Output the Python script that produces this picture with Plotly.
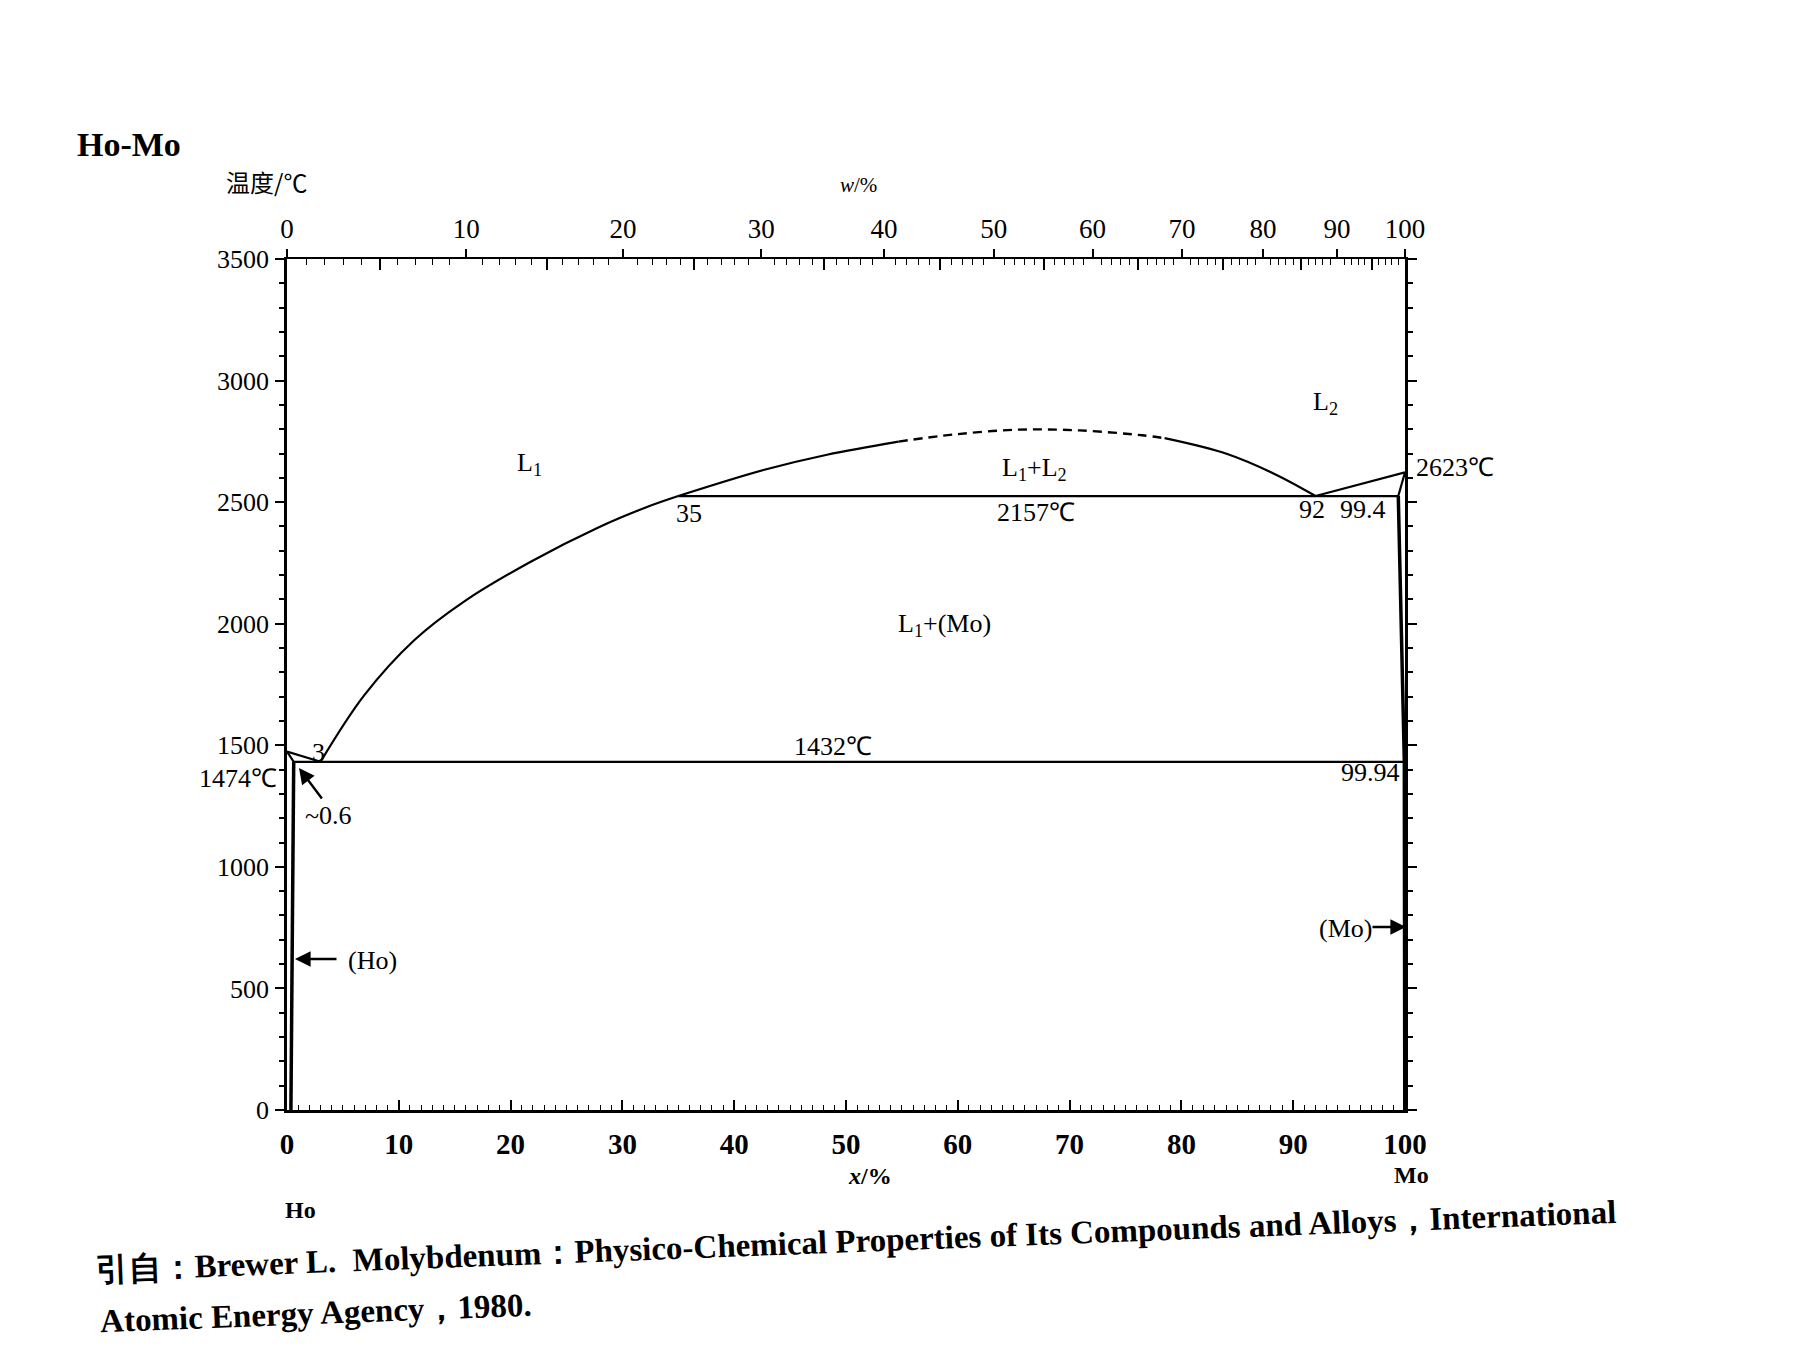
import plotly.graph_objects as go

# ---------------- data (x = at.% Mo, T = deg C) ----------------
M_HO = 164.93
M_MO = 95.95

ho_liq_x = [0, 3]
ho_liq_T = [1474, 1432]
ho_sol_x = [0, 0.6]
ho_sol_T = [1474, 1432]
ho_solvus_x = [0.6, 0.35]
ho_solvus_T = [1432, 0]

l1_liq_x = [3, 6.9, 11.4, 15.8, 21.8, 27.8, 32.2, 35]
l1_liq_T = [1432, 1705, 1933, 2090, 2255, 2395, 2480, 2525]

gap_left_x = [35, 42.7, 48.3, 54.7]
gap_left_T = [2525, 2633, 2695, 2749]
gap_dash_x = [54.7, 59.6, 65.3, 70.9, 76.5, 78.5]
gap_dash_T = [2749, 2778, 2798, 2795, 2775, 2763]
gap_right_x = [78.5, 84.1, 88.6, 92]
gap_right_T = [2763, 2698, 2610, 2525]

l2_liq_x = [92, 100]
l2_liq_T = [2525, 2623]
mo_sol_x = [99.4, 100]
mo_sol_T = [2525, 2623]
mo_solvus_x = [99.4, 99.94, 99.98]
mo_solvus_T = [2525, 1432, 0]

eut_x = [0.6, 99.94]
eut_T = [1432, 1432]
mono_x = [35, 99.4]
mono_T = [2525, 2525]

x_ticks = [0, 10, 20, 30, 40, 50, 60, 70, 80, 90, 100]
T_ticks = [0, 500, 1000, 1500, 2000, 2500, 3000, 3500]
w_ticks = [0, 10, 20, 30, 40, 50, 60, 70, 80, 90, 100]
w_mid = [5, 15, 25, 35, 45, 55, 65, 75, 85, 95]
w_minor = [w for w in range(1, 100) if w % 5]


def w_to_x(w):
    if w <= 0:
        return 0.0
    if w >= 100:
        return 100.0
    a = w / M_MO
    b = (100 - w) / M_HO
    return 100 * a / (a + b)


# ---------------- layout geometry ----------------
W, H = 1795, 1346
L, R, T, B = 287, 1405, 259, 1110
SERIF = "Liberation Serif"


def P(xp, yp):
    return (xp - L) / (R - L), (B - yp) / (B - T)


fig = go.Figure()


def line(x, y, dash="solid", width=2.2, shape="linear"):
    fig.add_trace(go.Scatter(x=x, y=y, mode="lines",
                             line=dict(color="black", width=width, dash=dash, shape=shape,
                                       smoothing=1.0),
                             hoverinfo="skip", showlegend=False, cliponaxis=False))


line(ho_liq_x, ho_liq_T)
line(ho_sol_x, ho_sol_T)
line(ho_solvus_x, ho_solvus_T, width=3.5)
line(l1_liq_x, l1_liq_T, shape="spline")
line(gap_left_x, gap_left_T, shape="spline")
line(gap_dash_x, gap_dash_T, dash="9px,6px", width=2.4, shape="spline")
line(gap_right_x, gap_right_T, shape="spline")
line(l2_liq_x, l2_liq_T)
line(mo_sol_x, mo_sol_T)
line(mo_solvus_x, mo_solvus_T, width=3.5)
line(eut_x, eut_T)
line(mono_x, mono_T)

# invisible traces so that the extra axes are drawn
for xa, ya in [("x2", "y"), ("x3", "y"), ("x", "y2")]:
    fig.add_trace(go.Scatter(x=[50], y=[100], xaxis=xa, yaxis=ya, mode="markers",
                             marker=dict(opacity=0), hoverinfo="skip", showlegend=False))

tick_font = dict(family=SERIF, size=26, color="black")

fig.update_layout(
    width=W, height=H,
    margin=dict(l=L, r=W - R, t=T, b=H - B, pad=0),
    paper_bgcolor="white", plot_bgcolor="white",
    showlegend=False,
    xaxis=dict(range=[0, 100], showgrid=False, zeroline=False, showline=True,
               linecolor="black", linewidth=2.5, ticks="inside", ticklen=10,
               tickwidth=1.8, tickcolor="black", tickvals=x_ticks,
               ticktext=[str(v) for v in x_ticks],
               tickfont=dict(family=SERIF, size=29, color="black", weight="bold"),
               ticklabelstandoff=6,
               minor=dict(dtick=1, ticks="inside", ticklen=5, tickwidth=1.4, tickcolor="black")),
    xaxis2=dict(range=[0, 100], overlaying="x", side="top", anchor="y", showgrid=False,
                zeroline=False, showline=True, linecolor="black", linewidth=2,
                ticks="outside", ticklen=8, tickwidth=1.6, tickcolor="black",
                tickvals=[w_to_x(w) for w in w_ticks], ticktext=[str(w) for w in w_ticks],
                tickfont=dict(family=SERIF, size=27, color="black"), ticklabelstandoff=0,
                minor=dict(tickvals=[w_to_x(w) for w in w_minor], ticks="inside",
                           ticklen=6, tickwidth=1.4, tickcolor="black")),
    xaxis3=dict(range=[0, 100], overlaying="x", side="top", anchor="y", showgrid=False,
                zeroline=False, showline=False, ticks="inside", ticklen=11, tickwidth=1.6,
                tickcolor="black", tickvals=[w_to_x(w) for w in w_mid],
                showticklabels=False),
    yaxis=dict(range=[0, 3500], showgrid=False, zeroline=False, showline=True,
               linecolor="black", linewidth=2.5, ticks="outside", ticklen=9, tickwidth=1.8,
               tickcolor="black", tickvals=T_ticks, ticktext=[str(v) for v in T_ticks],
               tickfont=tick_font, ticklabelstandoff=1,
               minor=dict(dtick=100, ticks="outside", ticklen=5, tickwidth=1.6, tickcolor="black")),
    yaxis2=dict(range=[0, 3500], overlaying="y", side="right", anchor="x", showgrid=False,
                zeroline=False, showline=True, linecolor="black", linewidth=2.5,
                ticks="outside", ticklen=9, tickwidth=1.8, tickcolor="black",
                tickvals=T_ticks, showticklabels=False,
                minor=dict(dtick=100, ticks="outside", ticklen=5, tickwidth=1.6, tickcolor="black")),
)


def text(s, xp, yp, size=26, bold=False, italic=False, family=SERIF, angle=0):
    px, py = P(xp, yp)
    fig.add_annotation(x=px, y=py, xref="paper", yref="paper", text=s, showarrow=False,
                       xanchor="center", yanchor="middle", textangle=angle,
                       font=dict(family=family, size=size, color="black",
                                 weight="bold" if bold else "normal",
                                 style="italic" if italic else "normal"))


def arrow(x_head, y_head, x_tail, y_tail):
    hx, hy = P(x_head, y_head)
    fig.add_annotation(x=hx, y=hy, xref="paper", yref="paper", text="", showarrow=True,
                       ax=x_tail - x_head, ay=y_tail - y_head, axref="pixel", ayref="pixel",
                       arrowhead=2, arrowsize=1.3, arrowwidth=2.4, arrowcolor="black",
                       standoff=0, startstandoff=0)


text("Ho-Mo", 129, 145, size=34, bold=True)
text("温度/℃", 266, 181, size=24, family="Noto Sans CJK SC")
text("<i>w</i>/%", 858, 185, size=21)

text("L<sub>1</sub>", 529, 464)
text("L<sub>2</sub>", 1325, 403)
text("L<sub>1</sub>+L<sub>2</sub>", 1034, 469)
text("2157℃", 1036, 512)
text("35", 689, 513)
text("92", 1312, 509)
text("99.4", 1363, 509)
text("2623℃", 1455, 467)
text("L<sub>1</sub>+(Mo)", 944, 625)
text("1432℃", 833, 746)
text("99.94", 1370, 772)
text("3", 318, 752)
text("1474℃", 238, 778)
text("~0.6", 328, 815)
text("(Ho)", 372, 960)
text("(Mo)", 1345, 928)

arrow(299, 768, 323, 800)
arrow(295, 959, 338, 959)
arrow(1406, 927, 1371, 927)

text("Ho", 300, 1210, size=24, bold=True)
text("Mo", 1411, 1175, size=24, bold=True)
text("<i>x</i>/%", 870, 1176, size=24, bold=True)

text("引自：Brewer L.  Molybdenum：Physico-Chemical Properties of Its Compounds and Alloys，International",
     856, 1241, size=33, bold=True, angle=-2.2)
text("Atomic Energy Agency，1980.", 316, 1313, size=33, bold=True, angle=-2.2)

fig.write_html("out.html")
